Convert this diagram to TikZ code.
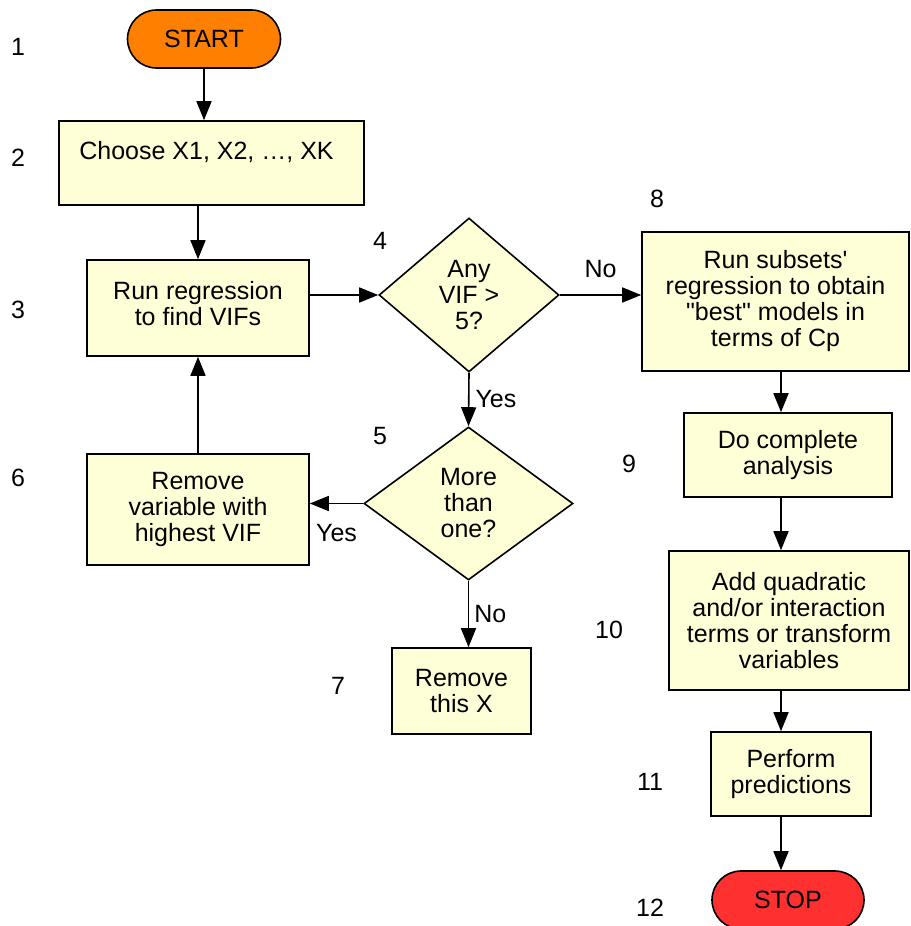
\documentclass[tikz,border=0pt]{standalone}
\usepackage{fontspec}
\setmainfont{Liberation Sans}
\usepackage{xcolor}
\usepackage{tikz}
\usetikzlibrary{shapes.geometric,shapes.misc,arrows.meta}

\definecolor{boxfill}{HTML}{FFFFD7}
\definecolor{startfill}{HTML}{FF8000}
\definecolor{stopfill}{HTML}{FF3030}

\begin{document}
\begin{tikzpicture}[x=1pt,y=-1pt,
            every node/.style={font=\fontsize{25}{26}\selectfont},
            box/.style={shape=rectangle, draw, line width=1.6pt, fill=boxfill, align=center, inner sep=0pt},
            dec/.style={shape=diamond, draw, line width=1.6pt, fill=boxfill, align=center, inner sep=0pt, aspect=1},
            term/.style={shape=rounded rectangle, draw, line width=1.6pt, minimum width=153pt, minimum height=58pt, inner sep=0pt},
            lbl/.style={inner sep=0pt},
            arr/.style={line width=1.6pt, -{Triangle[length=19pt,width=15pt]}}]
        \useasboundingbox (0,0) rectangle (910,926);

        % step numbers
        \node (n1) at (18,47) {1};
        \node (n2) at (18,158) {2};
        \node (n3) at (18,310) {3};
        \node (n4) at (380,241) {4};
        \node (n5) at (380,436) {5};
        \node (n6) at (18,478) {6};
        \node (n7) at (338,686) {7};
        \node (n8) at (657,199) {8};
        \node (n9) at (629,464) {9};
        \node (n10) at (609,630) {10};
        \node (n11) at (650,782) {11};
        \node (n12) at (650,908) {12};

        % left column
        \node[term, fill=startfill] (start) at (204,39) {START};
        \node[box, minimum width=305pt, minimum height=84pt] (choose) at (211.5,163) {Choose X1, X2, …, XK\hspace*{10pt}\\\mbox{}};
        \node[box, minimum width=222pt, minimum height=96pt] (run) at (198,308) {Run regression\\to find VIFs\\[-17pt]\mbox{}};
        \node[box, minimum width=222pt, minimum height=111pt] (remvar) at (198,509.5) {Remove\\variable with\\highest VIF};

        % decisions
        \node[dec, minimum width=180pt, minimum height=154pt] (any) at (469,295) {Any\\VIF >\\5?};
        \node[dec, minimum width=209pt, minimum height=153pt] (more) at (468.5,503.5) {More\\than\\one?};
        \node[box, minimum width=139pt, minimum height=86pt] (remx) at (461.5,691) {Remove\\this X};

        % right column
        \node[box, minimum width=267pt, minimum height=139pt] (subsets) at (775.5,301.5) {Run subsets\textquotesingle\\regression to obtain\\\textquotedbl best\textquotedbl{} models in\\terms of Cp};
        \node[box, minimum width=208pt, minimum height=84pt] (analysis) at (788,455) {Do complete\\analysis};
        \node[box, minimum width=240pt, minimum height=139pt] (quad) at (789,620.5) {Add quadratic\\and/or interaction\\terms or transform\\variables};
        \node[box, minimum width=160pt, minimum height=84pt] (predict) at (791,774) {Perform\\predictions};
        \node[term, fill=stopfill, minimum width=152pt] (stop) at (788,900) {STOP};
        \coordinate (col) at (781,0);

        \draw[arr] (start.south) -- (start.south |- choose.north);
        \draw[arr] (choose.south -| run.north) -- (run.north);
        \draw[arr] (run.east |- any.west) -- (any.west);
        \draw[arr] (any.east) -- node[lbl, above=16pt] (no1) {No} (subsets.west |- any.east);
        \draw[arr] (any.south) -- node[lbl, right=6pt] (yes1) {Yes} (more.north);
        \draw[arr] (more.west) -- node[lbl, below=20pt] (yes2) {Yes} (remvar.east |- more.west);
        \draw[arr] (remvar.north) -- (run.south);
        \draw[arr] (more.south) -- node[lbl, right=5pt] (no2) {No} (more.south |- remx.north);

        \draw[arr] (subsets.south -| col) -- (analysis.north -| col);
        \draw[arr] (analysis.south -| col) -- (quad.north -| col);
        \draw[arr] (quad.south -| col) -- (predict.north -| col);
        \draw[arr] (predict.south -| col) -- (stop.north -| col);
    \end{tikzpicture}
\end{document}
